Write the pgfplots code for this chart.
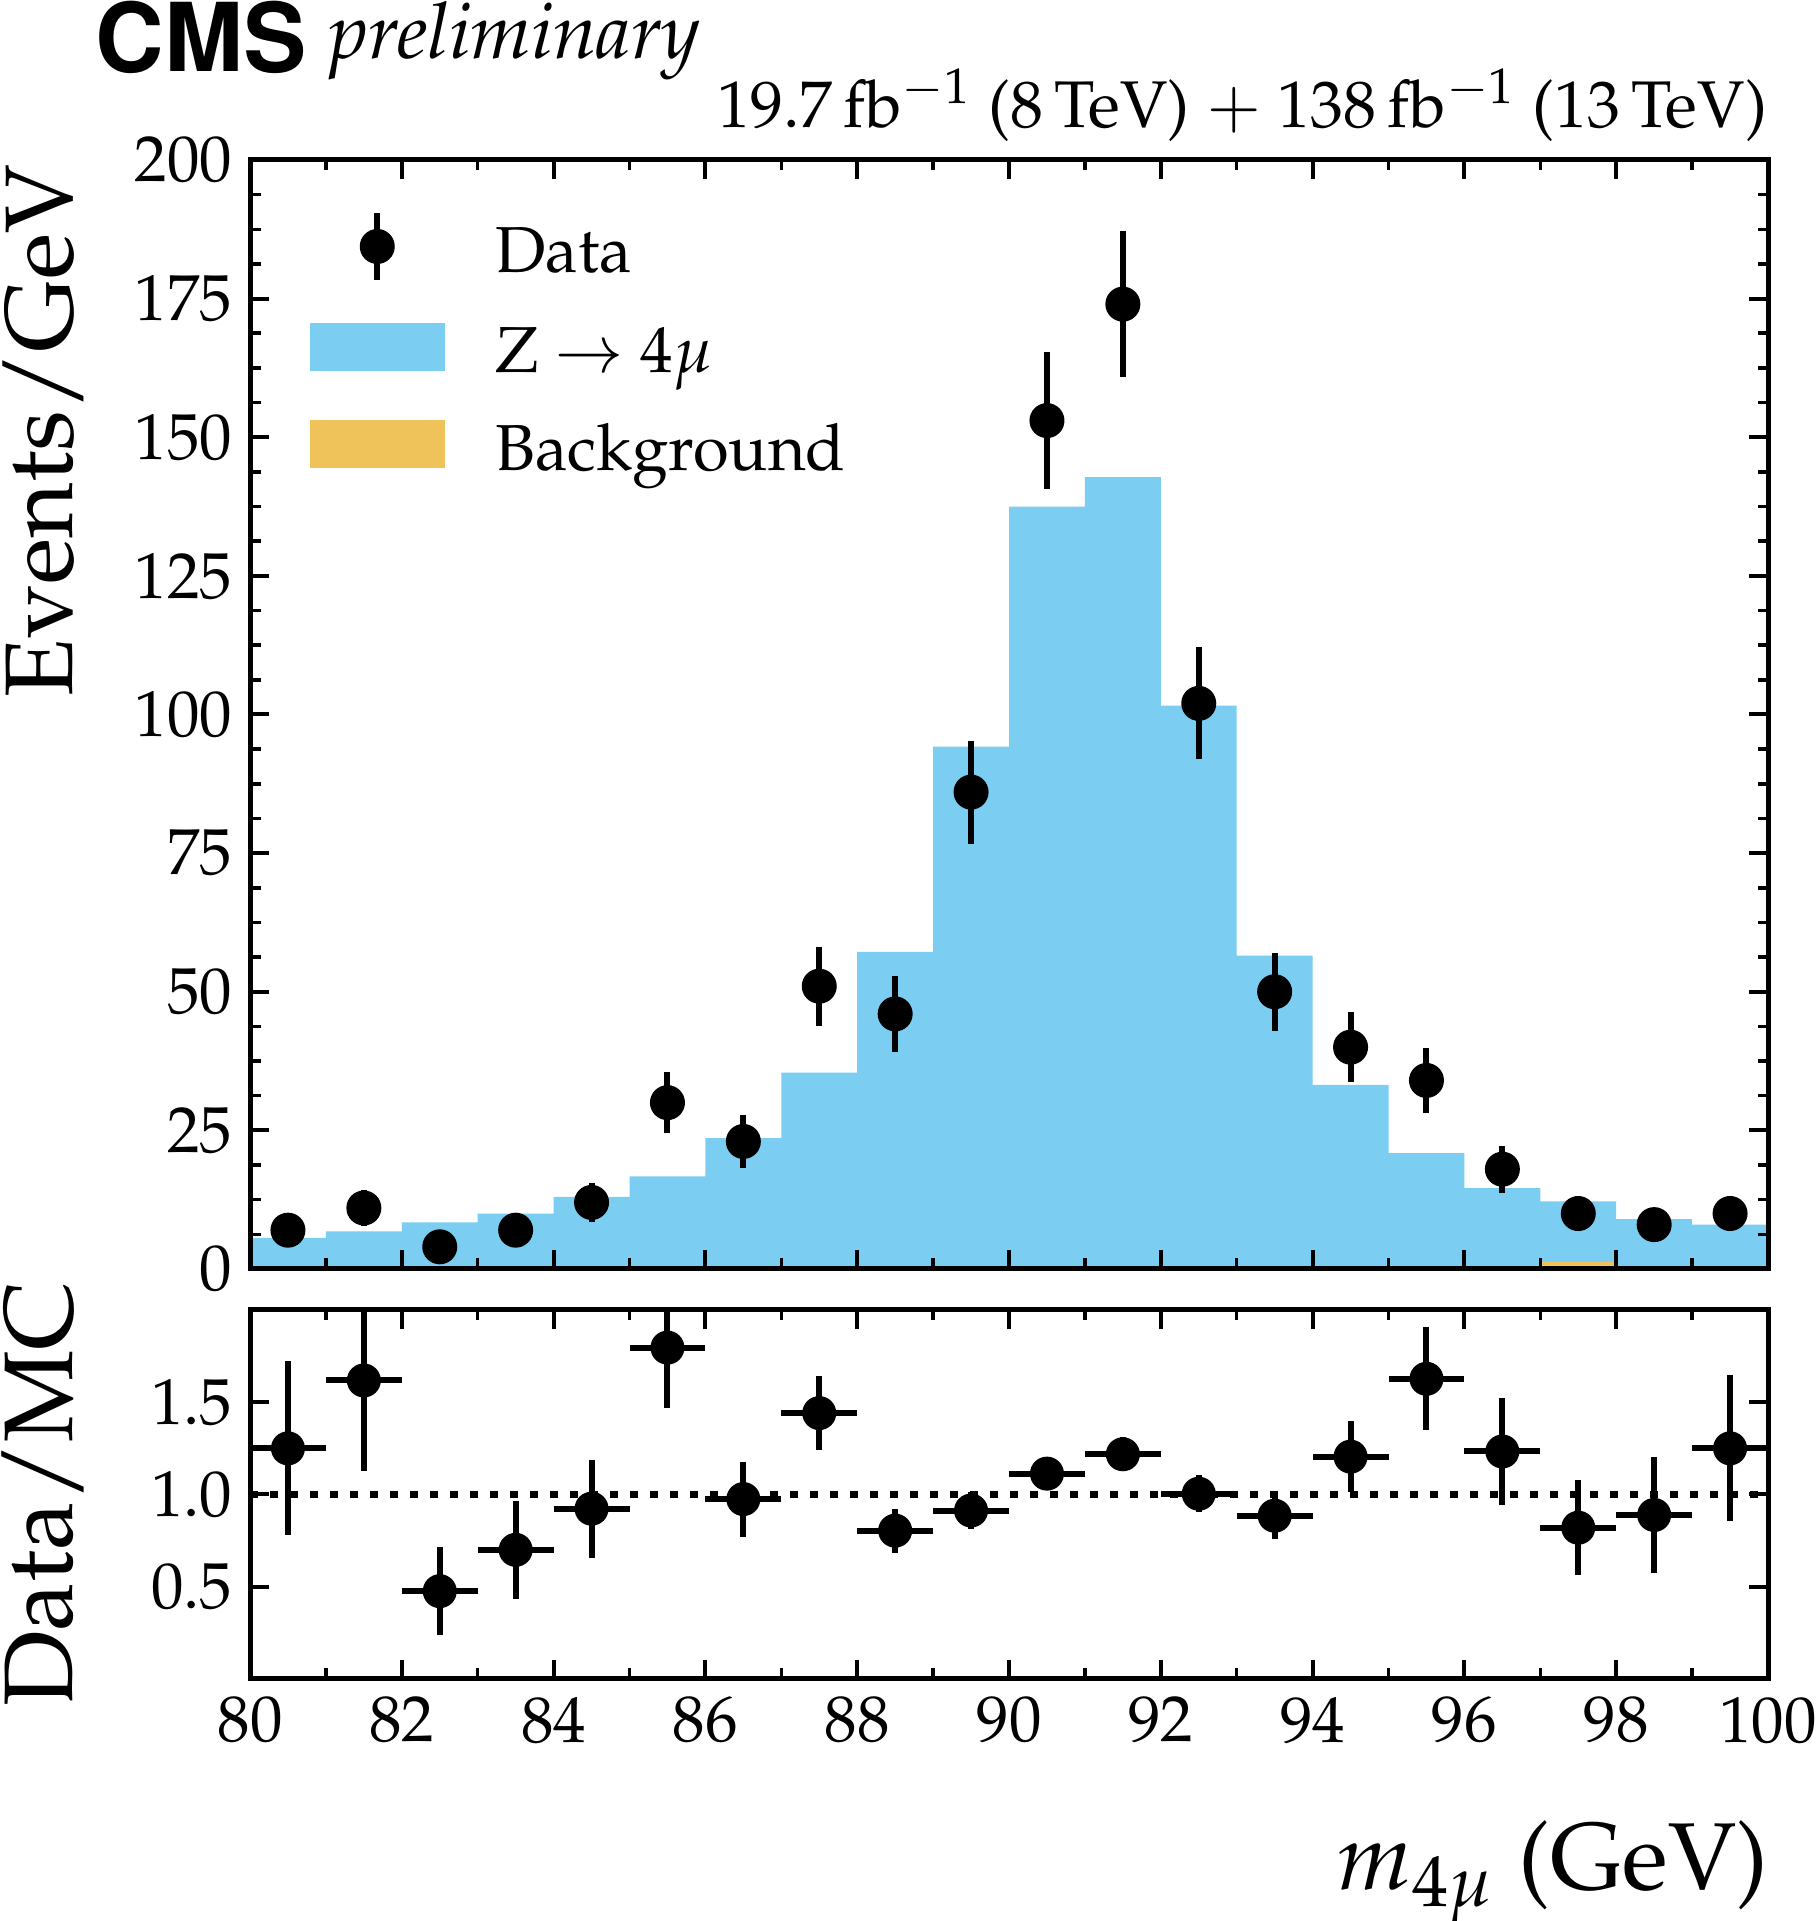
\documentclass[border=0pt]{standalone}
\usepackage[T1]{fontenc}
\usepackage{mathpazo}
\usepackage{pgfplots}
\pgfplotsset{compat=1.18}
\usepackage{pgfplotstable}
\definecolor{zblue}{RGB}{123,205,241}
\definecolor{bkg}{RGB}{240,195,90}
\newcommand\fsA{\fontsize{13}{15.6}\selectfont}
\newcommand\fsB{\fontsize{19.5}{23}\selectfont}
\newcommand\lstrut{\rule[-4pt]{0pt}{16pt}}

\pgfplotstableread{
x y ey
80.5 7 2.65
81.5 11 3.32
82.5 4 2.00
83.5 7 2.65
84.5 12 3.46
85.5 30 5.48
86.5 23 4.80
87.5 51 7.14
88.5 46 6.78
89.5 86 9.27
90.5 153 12.37
91.5 174 13.19
92.5 102 10.10
93.5 50 7.07
94.5 40 6.32
95.5 34 5.83
96.5 18 4.24
97.5 10 3.16
98.5 8 2.83
99.5 10 3.16
}\datatab

\pgfplotstableread{
x mc bg
80 5.6 0
81 6.8 0
82 8.4 0.15
83 10.0 0
84 13.0 0
85 16.7 0.2
86 23.6 0
87 35.4 0.45
88 57.2 0.3
89 94.2 0.2
90 137.5 0.4
91 142.8 0.1
92 101.6 0.3
93 56.5 0.05
94 33.2 0.1
95 20.9 0.05
96 14.6 0.05
97 12.2 1.3
98 9.0 0.2
99 8.0 0.55
100 8.0 0.55
}\mctab

\pgfplotstableread{
x r er
80.5 1.250 0.472
81.5 1.618 0.488
82.5 0.476 0.238
83.5 0.700 0.265
84.5 0.923 0.266
85.5 1.796 0.328
86.5 0.975 0.203
87.5 1.441 0.202
88.5 0.804 0.119
89.5 0.913 0.098
90.5 1.113 0.090
91.5 1.218 0.092
92.5 1.004 0.099
93.5 0.885 0.125
94.5 1.205 0.191
95.5 1.627 0.279
96.5 1.233 0.291
97.5 0.820 0.259
98.5 0.889 0.314
99.5 1.250 0.395
}\ratiotab

\pgfplotsset{cmsax/.style={
  scale only axis, width=303.6pt,
  xmin=80, xmax=100, xtick={80,82,...,100}, minor x tick num=1,
  tick align=inside, xtick pos=both, ytick pos=both,
  major tick length=3.8pt, minor tick length=2.1pt,
  axis line style={line width=1pt},
  major tick style={black, line width=0.8pt},
  minor tick style={black, line width=0.7pt},
  tick label style={font=\fsA},
  axis on top,
},
datalegend/.style={legend image code/.code={
  \draw[black, line width=1.2pt] (13.35pt,-6.7pt) -- (13.35pt,6.7pt);
  \fill[black] (13.35pt,0pt) circle (3.3pt);}},
zlegend/.style={legend image code/.code={\fill[zblue] (0pt,-4.6pt) rectangle (26.7pt,4.6pt);}},
blegend/.style={legend image code/.code={\fill[bkg] (0pt,-4.6pt) rectangle (26.7pt,4.6pt);}},
}

\begin{document}
\begin{tikzpicture}
\useasboundingbox (0,0) rectangle (363.4pt,384.2pt);
\begin{axis}[cmsax, at={(50pt,130.4pt)}, anchor=south west, height=221.8pt,
  ymin=0, ymax=200, ytick={0,25,...,200}, minor y tick num=3,
  xticklabel=\empty,
  legend style={at={(rel axis cs:0,1)}, anchor=north west, xshift=11.7pt, yshift=-9.8pt,
    draw=none, fill=none, inner sep=0pt, font=\fsA, row sep=6.0pt,
    nodes={inner sep=0pt},
    /tikz/every odd column/.style={column sep=10.1pt}},
  legend cell align=left,
]
\addlegendimage{datalegend}
\addlegendentry{\lstrut Data}
\addlegendimage{zlegend}
\addlegendentry{\lstrut Z $\rightarrow$ 4$\mu$}
\addlegendimage{blegend}
\addlegendentry{\lstrut Background}
\addplot[fill=zblue, draw=none, const plot mark left, forget plot]
  table[x=x,y=mc]{\mctab} \closedcycle;
\addplot[fill=bkg, draw=none, const plot mark left, forget plot]
  table[x=x,y=bg]{\mctab} \closedcycle;
\addplot[only marks, mark=*, mark size=3.3pt, black, forget plot,
  error bars/.cd, y dir=both, y explicit, error mark=none,
  error bar style={line width=1.2pt, solid}]
  table[x=x,y=y,y error=ey]{\datatab};
\end{axis}

\begin{axis}[cmsax, at={(50pt,48.4pt)}, anchor=south west, height=73.8pt,
  ymin=0, ymax=2, ytick={0.5,1,1.5}, minor y tick num=0,
  yticklabel style={/pgf/number format/.cd, fixed, fixed zerofill, precision=1},
]
\addplot[black, line width=1.5pt, dash pattern=on 1.5pt off 2.5pt] coordinates {(80,1) (100,1)};
\addplot[only marks, mark=*, mark size=3.2pt, black,
  error bars/.cd, x dir=both, x fixed=0.5, y dir=both, y explicit, error mark=none,
  error bar style={line width=1.2pt, solid}]
  table[x=x,y=r,y error=er]{\ratiotab};
\end{axis}

\node[rotate=90, anchor=base east, inner sep=0pt, font=\fontsize{19.2}{23}\selectfont] at (14.4pt,351.6pt) {Events/GeV};
\node[rotate=90, anchor=base, inner sep=0pt, font=\fsB] at (14.4pt,85.4pt) {Data/MC};
\node[anchor=base east, inner sep=0pt, font=\fontsize{19}{22}\selectfont] at (353.9pt,6.4pt) {$m_{4\mu}$ (GeV)};
\node[anchor=base west, inner sep=0pt, font=\fontsize{19}{21}\usefont{T1}{phv}{b}{n}] at (18.9pt,369.9pt) {CMS};
\node[anchor=base west, inner sep=0pt, font=\fontsize{15.6}{18}\selectfont\itshape] at (65.6pt,372.5pt) {preliminary};
\node[anchor=base east, inner sep=0pt, font=\fontsize{13.2}{15.8}\selectfont] at (353.6pt,358.7pt) {19.7\,fb$^{-1}$ (8\,TeV) $+$ 138\,fb$^{-1}$ (13\,TeV)};
\end{tikzpicture}
\end{document}
